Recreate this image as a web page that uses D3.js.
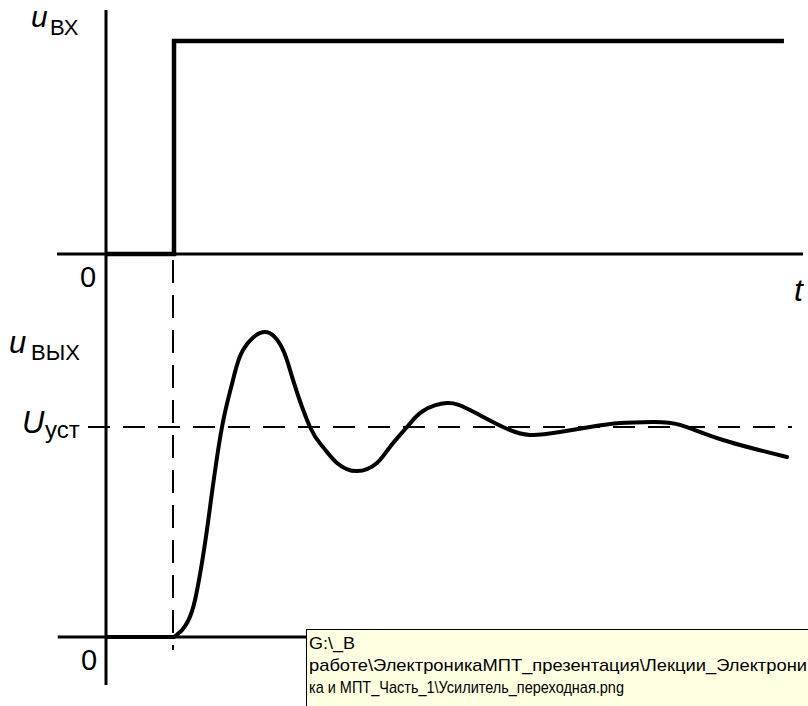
<!DOCTYPE html>
<html>
<head>
<meta charset="utf-8">
<script src="https://cdn.jsdelivr.net/npm/d3@7"></script>
<style>
html,body{margin:0;padding:0;background:#fff;}
svg{display:block;}
text{font-family:"Liberation Sans",Arial,sans-serif;fill:#000;}
</style>
</head>
<body>
<svg id="chart" width="808" height="706"></svg>
<script>
// ---- data ----
const stepTime = [0, 1, 1, 9.97];                 // input signal time points
const stepValue = [0, 0, 1, 1];                   // input signal u_вх
const outTime = [1.0, 1.118, 1.206, 1.309, 1.441, 1.544, 1.706, 1.868, 2.015, 2.338, 2.603, 2.75, 3.0, 3.191, 3.397, 3.691, 3.985, 4.176, 4.426, 4.662, 5.015, 5.353, 5.838, 6.235, 6.676, 7.118, 7.559, 8.044, 8.441, 9.074, 10.015];
const outValue = [0, 0.033, 0.076, 0.176, 0.414, 0.652, 1.0, 1.224, 1.367, 1.452, 1.367, 1.224, 1.0, 0.905, 0.829, 0.790, 0.829, 0.905, 1.0, 1.076, 1.114, 1.081, 1.0, 0.962, 0.976, 1.0, 1.019, 1.024, 1.010, 0.938, 0.857];
const preTime = [0, 1.0];       // output before step
const preValue = [0, 0];
const steadyValue = 1;          // U_уст
const tooltipLines = ["G:\\_B", "работе\\ЭлектроникаМПТ_презентация\\Лекции_Электрони", "ка и МПТ_Часть_1\\Усилитель_переходная.png"];

// ---- scales ----
const svg = d3.select("#chart");
const x = d3.scaleLinear().domain([0, 10]).range([106, 786]);
const yIn = d3.scaleLinear().domain([0, 1]).range([254, 41]);
const yOut = d3.scaleLinear().domain([0, 1]).range([637, 427]);

// axes
svg.append("line").attr("x1", x(0)).attr("x2", x(0)).attr("y1", 10).attr("y2", 685)
  .attr("stroke", "#000").attr("stroke-width", 3);
svg.append("line").attr("x1", x(-0.72)).attr("x2", 803).attr("y1", yIn(0)).attr("y2", yIn(0))
  .attr("stroke", "#000").attr("stroke-width", 3);
svg.append("line").attr("x1", x(-0.71)).attr("x2", 808).attr("y1", yOut(0)).attr("y2", yOut(0))
  .attr("stroke", "#000").attr("stroke-width", 3);

// dashed guides
svg.append("line").attr("x1", x(1) - 1).attr("x2", x(1) - 1).attr("y1", yIn(0)).attr("y2", 650)
  .attr("stroke", "#000").attr("stroke-width", 2).attr("stroke-dasharray", "23,12").attr("stroke-dashoffset", -6);
svg.append("line").attr("x1", 88).attr("x2", 792).attr("y1", yOut(steadyValue)).attr("y2", yOut(steadyValue))
  .attr("stroke", "#000").attr("stroke-width", 2).attr("stroke-dasharray", "22,13").attr("stroke-dashoffset", 0);

// input step
svg.append("path").datum(stepTime.map((t, i) => [t, stepValue[i]]))
  .attr("d", d3.line().x(d => x(d[0])).y(d => yIn(d[1])))
  .attr("fill", "none").attr("stroke", "#000").attr("stroke-width", 4.5);

// output
svg.append("path").datum(outTime.map((t, i) => [t, outValue[i]]))
  .attr("d", d3.line().curve(d3.curveNatural).x(d => x(d[0])).y(d => yOut(d[1])))
  .attr("fill", "none").attr("stroke", "#000").attr("stroke-width", 4).attr("stroke-linecap", "round");
svg.append("path").datum(preTime.map((t, i) => [t, preValue[i]]))
  .attr("d", d3.line().x(d => x(d[0])).y(d => yOut(d[1])))
  .attr("fill", "none").attr("stroke", "#000").attr("stroke-width", 4);

// labels
function lab(txt, px, py, size, italic) {
  svg.append("text").attr("x", px).attr("y", py).attr("font-size", size)
    .attr("font-style", italic ? "italic" : "normal").text(txt);
}
lab("u", 31, 27, 30, true);
lab("ВХ", 50, 35, 22, false);
lab("0", 80, 287, 29, false);
lab("t", 794, 301, 32, true);
lab("u", 9, 353, 31, true);
lab("ВЫХ", 31, 360, 22, false);
lab("U", 22, 433, 31, true);
lab("уст", 45, 438, 24, false);
lab("0", 81, 670, 29, false);

// tooltip
const tip = svg.append("g");
tip.append("rect").attr("x", 306.5).attr("y", 629.5).attr("width", 510).attr("height", 90)
  .attr("fill", "#ffffe1").attr("stroke", "#000").attr("stroke-width", 1);
const tipWidths = [46, 498, 315];
tooltipLines.forEach((s, i) => {
  tip.append("text").attr("x", 309).attr("y", 649 + i * 22)
    .attr("font-family", "'DejaVu Sans', Tahoma, sans-serif")
    .attr("font-size", 17)
    .attr("textLength", tipWidths[i]).attr("lengthAdjust", "spacingAndGlyphs")
    .text(s);
});
</script>
</body>
</html>
